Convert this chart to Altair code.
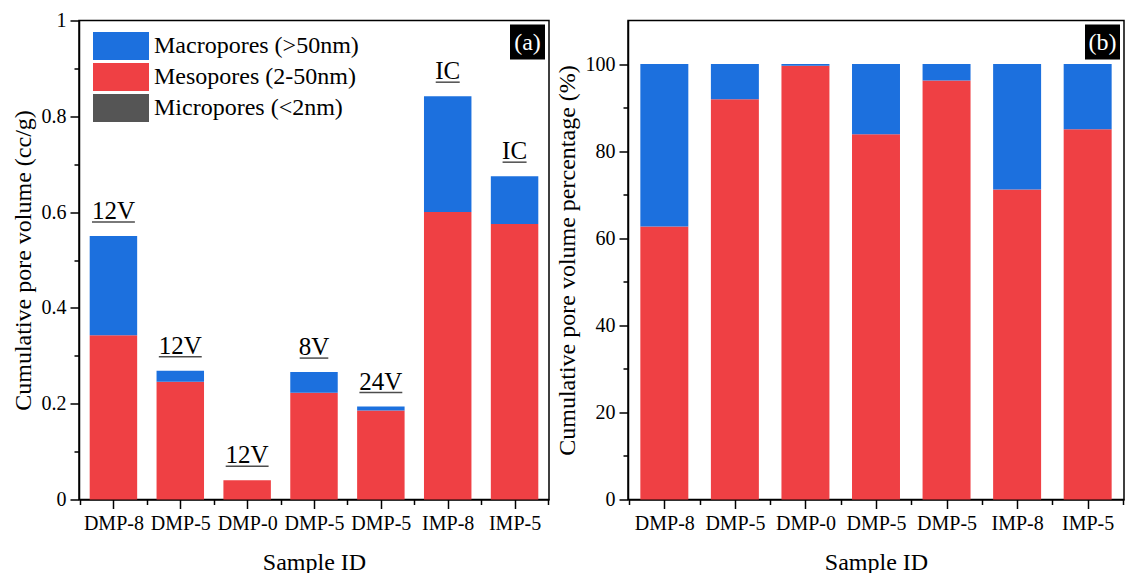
import json
import altair as alt
import pandas as pd

# Samples in plotting order (names repeat, so bars are placed by index)
samples = ["DMP-8", "DMP-5", "DMP-0", "DMP-5", "DMP-5", "IMP-8", "IMP-5"]
notes = ["12V", "12V", "12V", "8V", "24V", "IC", "IC"]

parts = ["Macropores (>50nm)", "Mesopores (2-50nm)", "Micropores (<2nm)"]
part_colors = ["#1C70DE", "#EF4044", "#555555"]

# Cumulative pore volume, cc/g
micro_vol = [0.000, 0.000, 0.000, 0.000, 0.000, 0.000, 0.000]
meso_vol = [0.343, 0.246, 0.040, 0.223, 0.186, 0.600, 0.575]
macro_vol = [0.207, 0.023, 0.0002, 0.043, 0.008, 0.242, 0.100]

# Share of the cumulative pore volume, %
micro_pct = [0.0, 0.0, 0.0, 0.0, 0.0, 0.0, 0.0]
meso_pct = [62.7, 91.9, 99.6, 83.9, 96.2, 71.2, 85.0]
macro_pct = [37.3, 8.1, 0.4, 16.1, 3.8, 28.8, 15.0]

FONT = "Liberation Serif"
H = 479
W_A, W_B = 470, 496
X_DOMAIN = [-0.515, 6.515]
X_SCALE = alt.Scale(domain=X_DOMAIN, nice=False, zero=False)


def x_axis():
    return alt.Axis(
        values=[i / 2 - 0.5 for i in range(15)],
        labelExpr="datum.value % 1 == 0 ? " + json.dumps(samples) + "[datum.value] : ''",
        tickSize={"condition": {"test": "datum.value % 1 == 0", "value": 9}, "value": 5},
        labelOverlap=False, labelFlush=False,
        title="Sample ID", grid=False, labelPadding=5, titlePadding=17,
    )


def y_axis(values, test, fmt_expr, title):
    return alt.Axis(
        values=values,
        labelExpr=f"{test} ? {fmt_expr} : ''",
        tickSize={"condition": {"test": test, "value": 9}, "value": 5},
        labelOverlap=False, labelFlush=False,
        title=title, grid=False, labelPadding=4, titlePadding=6,
    )


def stack(micro, meso, macro):
    rows = []
    for i, s in enumerate(samples):
        base = 0.0
        for name, vals in ((parts[2], micro), (parts[1], meso), (parts[0], macro)):
            rows.append({"idx": i, "sample": s, "part": name,
                         "lo": base, "hi": base + vals[i]})
            base += vals[i]
    return pd.DataFrame(rows)


def bars(df, half, y_scale, y_ax, legend):
    return alt.Chart(df).mark_rect().transform_calculate(
        x0=f"datum.idx - {half}", x1=f"datum.idx + {half}"
    ).encode(
        x=alt.X("x0:Q", scale=X_SCALE, axis=x_axis()),
        x2="x1:Q",
        y=alt.Y("lo:Q", scale=y_scale, axis=y_ax),
        y2="hi:Q",
        color=alt.Color("part:N", scale=alt.Scale(domain=parts, range=part_colors), legend=legend),
    )


def badge(tag, width):
    d = pd.DataFrame({"tag": [tag]})
    box = alt.Chart(d).mark_rect(color="black").encode(
        x=alt.value(width - 39), x2=alt.value(width - 4),
        y=alt.value(4), y2=alt.value(39),
    )
    txt = alt.Chart(d).mark_text(font=FONT, fontSize=24, color="white",
                                 align="center", baseline="middle").encode(
        x=alt.value(width - 21.5), y=alt.value(22), text="tag:N"
    )
    return box + txt


# Panel (a): absolute volumes
vol_scale = alt.Scale(domain=[0, 1], nice=False)
vol_axis = y_axis([round(i * 0.1, 1) for i in range(11)],
                  "round(datum.value * 10) % 2 == 0", "format(datum.value, '~g')",
                  "Cumulative pore volume (cc/g)")
legend_a = alt.Legend(
    title=None, orient="none", legendX=28, legendY=11.5, padding=0,
    symbolType="M-2,-1H2V1H-2Z", symbolSize=784, symbolStrokeWidth=0,
    symbolOpacity=1, rowPadding=3, labelOffset=19, labelLimit=0,
    labelFont=FONT, labelFontSize=24, labelColor="black",
)
bars_a = bars(stack(micro_vol, meso_vol, macro_vol), 0.355, vol_scale, vol_axis, legend_a)

note_df = pd.DataFrame({
    "idx": list(range(len(samples))),
    "note": notes,
    "total": [a + b + c for a, b, c in zip(micro_vol, meso_vol, macro_vol)],
})
note_x = alt.X("idx:Q", scale=X_SCALE, axis=x_axis())
note_y = alt.Y("total:Q", scale=vol_scale, axis=vol_axis)
note_text = alt.Chart(note_df).mark_text(
    font=FONT, fontSize=25, color="black", baseline="alphabetic", dy=-17
).encode(x=note_x, y=note_y, text="note:N")
note_line = alt.Chart(note_df).mark_tick(
    orient="horizontal", thickness=1.5, yOffset=-14, color="black"
).transform_calculate(
    uw="datum.note == 'IC' ? 24 : length(datum.note) * 14.3"
).encode(x=note_x, y=note_y, size=alt.Size("uw:Q", scale=None))

panel_a = alt.layer(bars_a, note_text, note_line, badge("(a)", W_A)).properties(
    width=W_A, height=H
)

# Panel (b): percentages
pct_axis = y_axis(list(range(0, 101, 10)), "datum.value % 20 == 0", "format(datum.value, 'd')",
                  "Cumulative pore volume percentage (%)")
bars_b = bars(stack(micro_pct, meso_pct, macro_pct), 0.34,
              alt.Scale(domain=[0, 110], nice=False), pct_axis, None)
panel_b = alt.layer(bars_b, badge("(b)", W_B)).properties(width=W_B, height=H)

chart = alt.hconcat(panel_a, panel_b, spacing=4).resolve_scale(
    color="independent"
).properties(
    padding={"left": 10, "top": 9.5, "right": 0, "bottom": 0},
    background="white",
).configure_view(
    stroke="black", strokeWidth=1.5
).configure_axis(
    domainColor="black", domainWidth=1.5, tickColor="black", tickWidth=1.5,
    labelFont=FONT, labelFontSize=20, labelColor="black",
    titleFont=FONT, titleFontSize=24, titleFontWeight="normal", titleColor="black",
)

chart.save("out.html", embed_options={"renderer": "svg", "actions": False})
